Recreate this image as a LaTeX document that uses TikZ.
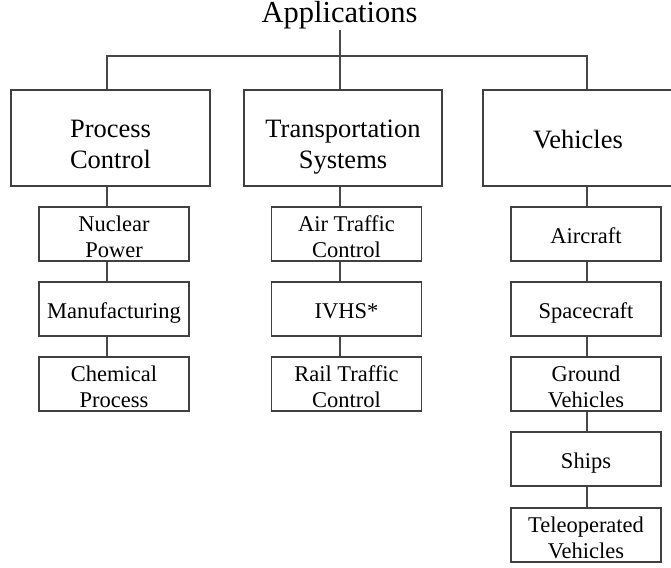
\documentclass[tikz,border=0pt]{standalone}
\usepackage{fontspec}
\setmainfont{Liberation Serif}
\begin{document}
\begin{tikzpicture}[x=1pt,y=-1pt,
  line width=1.1pt,
  link/.style={draw=black!72},
  bigbox/.style={draw=black!75, rectangle, minimum height=96pt, inner sep=0pt,
    align=center, font=\fontsize{26.5}{31}\selectfont},
  bigtwo/.style={bigbox, text height=60pt, text depth=0pt},
  bigone/.style={bigbox, text height=20pt, text depth=0pt},
  smallbox/.style={draw=black!75, rectangle, minimum width=150pt, minimum height=54pt,
    inner sep=0pt, align=center, font=\fontsize{22.5}{26}\selectfont},
  smalltwo/.style={smallbox, text height=46pt, text depth=0pt},
  smallone/.style={smallbox, text height=19pt, text depth=0pt},
  titletext/.style={inner sep=0pt, font=\fontsize{30.5}{36}\selectfont}]
\useasboundingbox (0,0) rectangle (671,567);

% title
\node[titletext, anchor=base] (app) at (339.5,23) {Applications};

% column connector positions
\coordinate (c1) at (107,0);
\coordinate (c2) at (340,0);
\coordinate (c3) at (587,0);
\coordinate (bus) at (0,56);

% top-level categories
\node[bigtwo, minimum width=199pt] (pc) at (110.5,138) {Process\\Control};
\node[bigtwo, minimum width=198pt] (ts) at (343,138) {Transportation\\Systems};
\node[bigone, minimum width=190pt] (vh) at (578,138) {Vehicles};

% process control items
\node[smalltwo] (np) at (114,234) {Nuclear\\Power};
\node[smallone] (mf) at (114,309) {Manufacturing};
\node[smalltwo] (cp) at (114,384) {Chemical\\Process};

% transportation items
\node[smalltwo] (atc) at (346.5,234) {Air Traffic\\Control};
\node[smallone] (ivhs) at (346.5,309) {IVHS*};
\node[smalltwo] (rtc) at (346.5,384) {Rail Traffic\\Control};

% vehicle items
\node[smallone] (ac) at (586,234) {Aircraft};
\node[smallone] (sc) at (586,309) {Spacecraft};
\node[smalltwo] (gv) at (586,384) {Ground\\Vehicles};
\node[smallone] (sh) at (586,459) {Ships};
\node[smalltwo] (tv) at (586,535) {Teleoperated\\Vehicles};

% tree connectors
\draw[link] (app.south -| c2) -- (ts.north -| c2);
\draw[link] (pc.north -| c1) -- (c1 |- bus) -- (c3 |- bus) -- (vh.north -| c3);

\draw[link] (pc.south -| c1) -- (np.north -| c1);
\draw[link] (np.south -| c1) -- (mf.north -| c1);
\draw[link] (mf.south -| c1) -- (cp.north -| c1);

\draw[link] (ts.south -| c2) -- (atc.north -| c2);
\draw[link] (atc.south -| c2) -- (ivhs.north -| c2);
\draw[link] (ivhs.south -| c2) -- (rtc.north -| c2);

\draw[link] (vh.south -| c3) -- (ac.north -| c3);
\draw[link] (ac.south -| c3) -- (sc.north -| c3);
\draw[link] (sc.south -| c3) -- (gv.north -| c3);
\draw[link] (gv.south -| c3) -- (sh.north -| c3);
\draw[link] (sh.south -| c3) -- (tv.north -| c3);
\end{tikzpicture}
\end{document}
